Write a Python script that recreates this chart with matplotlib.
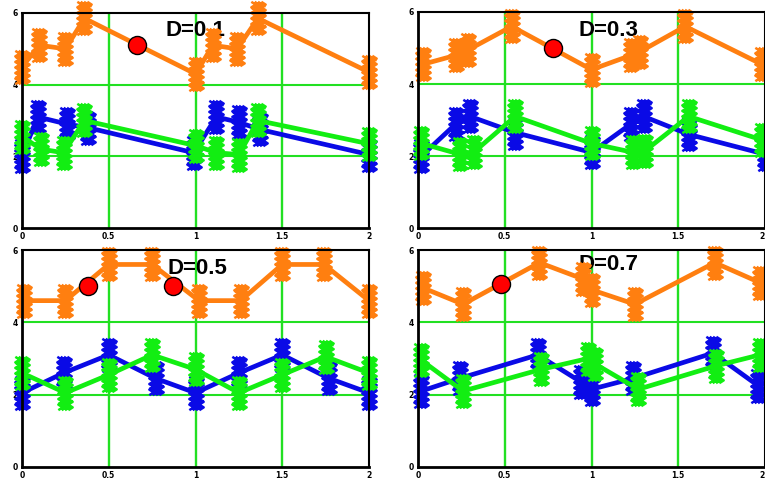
import numpy as np
import matplotlib
matplotlib.use("Agg")
import matplotlib.pyplot as plt
from matplotlib.path import Path

# --- data (one entry per panel) ---
labels = ["D=0.1", "D=0.3", "D=0.5", "D=0.7"]

orange_x = [
    [0.0, 0.1, 0.25, 0.36, 1.0, 1.1, 1.24, 1.36, 2.0],
    [0.03, 0.22, 0.29, 0.54, 1.0, 1.23, 1.28, 1.54, 1.98],
    [0.01, 0.25, 0.5, 0.75, 1.02, 1.26, 1.5, 1.74, 2.0],
    [0.03, 0.26, 0.7, 0.95, 1.0, 1.25, 1.71, 1.97],
]
orange_y = [
    [4.5, 5.1, 5.0, 5.85, 4.3, 5.1, 5.0, 5.85, 4.35],
    [4.55, 4.8, 4.95, 5.6, 4.4, 4.8, 4.9, 5.6, 4.55],
    [4.6, 4.6, 5.6, 5.6, 4.6, 4.6, 5.6, 5.6, 4.6],
    [4.95, 4.5, 5.65, 5.2, 4.9, 4.5, 5.65, 5.1],
]
blue_x = [
    [0.0, 0.09, 0.26, 0.38, 0.99, 1.12, 1.25, 1.37, 2.0],
    [0.02, 0.22, 0.3, 0.56, 1.0, 1.23, 1.3, 1.56, 2.0],
    [0.0, 0.24, 0.5, 0.77, 1.0, 1.25, 1.5, 1.77, 2.0],
    [0.02, 0.24, 0.69, 0.94, 1.0, 1.24, 1.7, 1.96],
]
blue_y = [
    [2.0, 3.1, 2.9, 2.8, 2.1, 3.1, 2.95, 2.75, 2.05],
    [2.0, 2.9, 3.1, 2.65, 2.1, 2.9, 3.1, 2.6, 2.05],
    [2.05, 2.6, 3.1, 2.45, 2.05, 2.6, 3.1, 2.45, 2.05],
    [2.1, 2.45, 3.1, 2.35, 2.15, 2.45, 3.15, 2.25],
]
green_x = [
    [0.0, 0.11, 0.24, 0.36, 1.0, 1.12, 1.25, 1.36, 2.0],
    [0.02, 0.24, 0.32, 0.56, 1.0, 1.24, 1.31, 1.56, 1.98],
    [0.0, 0.25, 0.5, 0.75, 1.0, 1.25, 1.5, 1.75, 2.0],
    [0.02, 0.26, 0.71, 0.98, 1.02, 1.27, 1.72, 1.97],
]
green_y = [
    [2.55, 2.2, 2.1, 3.0, 2.3, 2.1, 2.05, 3.0, 2.35],
    [2.35, 2.05, 2.1, 3.1, 2.35, 2.1, 2.15, 3.1, 2.45],
    [2.6, 2.05, 2.55, 3.1, 2.7, 2.05, 2.55, 3.05, 2.6],
    [2.95, 2.1, 2.7, 3.0, 2.85, 2.15, 2.8, 3.1],
]
dot_x = [[0.66], [0.78], [0.38, 0.87], [0.48]]
dot_y = [[5.12], [5.0], [5.0, 5.0], [5.05]]
label_x = [1.0, 1.1, 1.01, 1.1]
label_y = [5.5, 5.5, 5.5, 5.6]

xticks = [0, 0.5, 1, 1.5, 2]
xticklabels = ["0", "0.5", "1", "1.5", "2"]
yticks = [0, 2, 4, 6]
grid_x = [0.5, 1, 1.5]
grid_y = [2, 4]

ORANGE = "#ff7f10"
BLUE = "#0a0ae6"
GREEN = "#12ee12"
GRIDGREEN = "#22e022"


def scribble_marker():
    # dense vertical zig-zag "scribble" drawn at every vertex
    verts, codes = [], []
    for cx in (-0.3, -0.1, 0.1, 0.3):
        ys = np.linspace(-1, 1, 13)
        for k, y in enumerate(ys):
            verts.append((cx + (0.13 if k % 2 else -0.13), y))
            codes.append(Path.MOVETO if k == 0 else Path.LINETO)
    # a few cross strokes to make the blob look scribbled
    for y in (-0.6, 0.0, 0.6):
        verts += [(-0.42, y), (0.42, y + 0.15)]
        codes += [Path.MOVETO, Path.LINETO]
    return Path(verts, codes)


scribble = scribble_marker()

fig = plt.figure(figsize=(7.65, 4.82), dpi=100)
W, H = 765.0, 482.0
boxes = [(22, 13, 369, 228), (418, 12, 765, 228),
         (22, 250, 369, 467), (418, 250, 765, 467)]

for i, (l, t, r, b) in enumerate(boxes):
    ax = fig.add_axes([l / W, 1 - b / H, (r - l) / W, (b - t) / H])
    ax.set_xlim(0, 2)
    ax.set_ylim(0, 6)
    for gx in grid_x:
        ax.axvline(gx, color=GRIDGREEN, lw=1.7, zorder=0.5)
    for gy in grid_y:
        ax.axhline(gy, color=GRIDGREEN, lw=1.5, zorder=0.5)

    ax.text(label_x[i], label_y[i], labels[i], ha="center", va="center",
            fontsize=16, fontweight="bold", family="Liberation Sans",
            color="black", zorder=1)

    for xs, ys, c in ((blue_x[i], blue_y[i], BLUE),
                      (green_x[i], green_y[i], GREEN),
                      (orange_x[i], orange_y[i], ORANGE)):
        ax.plot(xs, ys, color=c, lw=3.4, marker=scribble, markersize=24,
                markeredgewidth=1.8, markeredgecolor=c, markerfacecolor="none",
                zorder=2, clip_on=False)

    ax.plot(dot_x[i], dot_y[i], "o", color="red", markersize=13,
            markeredgecolor="black", markeredgewidth=1.0, zorder=3)

    ax.set_xticks(xticks)
    ax.set_xticklabels(xticklabels)
    ax.set_yticks(yticks)
    ax.tick_params(length=0, labelsize=5.5, pad=3)
    for lab in ax.get_xticklabels() + ax.get_yticklabels():
        lab.set_fontweight("bold")
    if i % 2 == 1:
        ax.get_xticklabels()[-1].set_horizontalalignment("right")
    for side, sp in ax.spines.items():
        sp.set_color("black")
        sp.set_linewidth(2.0 if side in ("left", "bottom") else 1.5)
        sp.set_zorder(2.5)

fig.savefig("out.png", dpi=100)
